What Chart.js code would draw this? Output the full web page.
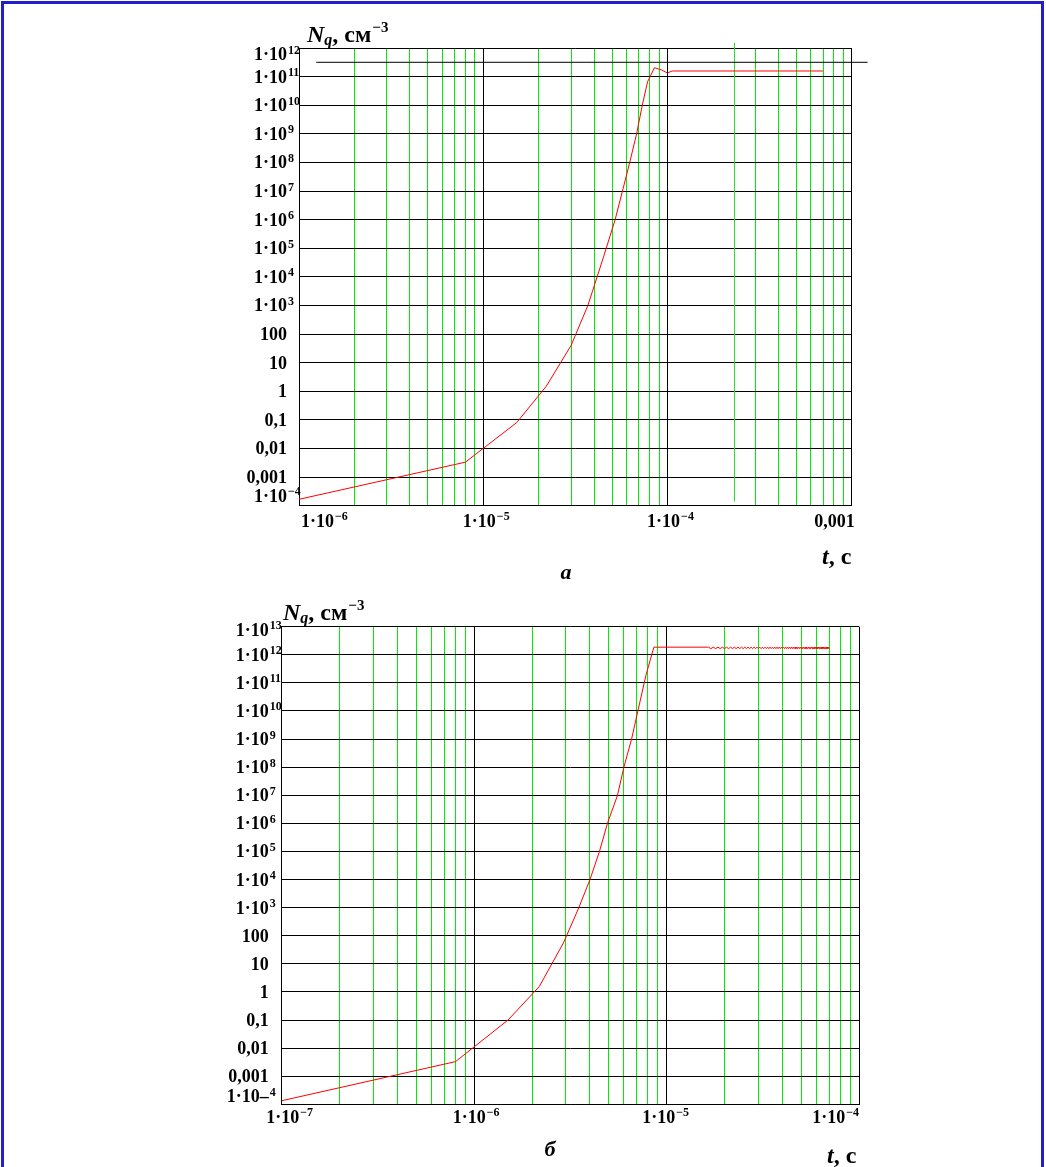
<!DOCTYPE html>
<html>
<head>
<meta charset="utf-8">
<script src="https://cdn.jsdelivr.net/npm/chart.js@4.4.1/dist/chart.umd.min.js"></script>
<style>
  html, body { margin: 0; padding: 0; background: #fff; }
  body { width: 1046px; height: 1167px; position: relative; overflow: hidden; }
  #frame { position: absolute; left: 1px; top: 1px; width: 1037px; height: 1200px; border: 3px solid #1f1fd0; }
  canvas { position: absolute; left: 0; }
  #chartA { top: 0; }
  #chartB { top: 590px; }
</style>
</head>
<body>
<div id="frame"></div>
<canvas id="chartA" width="1046" height="590"></canvas>
<canvas id="chartB" width="1046" height="577"></canvas>
<script>
// --- chart a: N_q(t), t from 1e-6 to 1e-3 s
const timeA = [1e-6, 8e-6, 1.52e-5, 2.2e-5, 3e-5, 3.7e-5, 4.5e-5, 5.2e-5, 5.7e-5, 6.24e-5, 6.8e-5, 7.3e-5, 7.8e-5, 8.5e-5, 9.3e-5, 1e-4, 1.06e-4, 7e-4];
const densA = [1.66e-4, 3.3e-3, 0.08, 1.5, 40, 1e3, 5e4, 1e6, 1e7, 1e8, 1e9, 1e10, 6.6e10, 2.05e11, 1.7e11, 1.34e11, 1.57e11, 1.57e11];
// horizontal black level line and green time mark
const levelTimeA = [1.24e-6, 1.22e-3];
const levelDensA = [3.16e11, 3.16e11];
const markTimeA = [2.31e-4, 2.31e-4];
const markDensA = [1.37e-4, 1.5e12];

// --- chart b: t from 1e-7 to 1e-4 s
const timeB = [1e-7, 8e-7, 1.5e-6, 2.18e-6, 2.91e-6, 3.5e-6, 4.0e-6, 4.48e-6, 4.93e-6, 5.56e-6, 6.0e-6, 6.58e-6, 7.81e-6, 8.59e-6, 1.65e-5];
const densB = [1.34e-4, 3.3e-3, 0.1, 1.55, 55, 1e3, 1e4, 1e5, 1e6, 1e7, 1e8, 1e9, 1.86e11, 1.87e12, 1.87e12];
// ripple on the plateau: t in microseconds, N in 1e12 cm^-3
const waveTimeB = [
  17, 17.5, 18, 18.5, 19, 19.5, 20, 20.5, 21, 21.5,
  22, 22.5, 23, 23.5, 24, 24.5, 25, 25.5, 26, 26.5,
  27, 27.5, 28, 28.5, 29, 29.5, 30, 30.5, 31, 31.5,
  32, 32.5, 33, 33.5, 34, 34.5, 35, 35.5, 36, 36.5,
  37, 37.5, 38, 38.5, 39, 39.5, 40, 40.5, 41, 41.5,
  42, 42.5, 43, 43.5, 44, 44.5, 45, 45.5, 46, 46.5,
  47, 47.5, 48, 48.5, 49, 49.5, 50, 50.5, 51, 51.5,
  52, 52.5, 53, 53.5, 54, 54.5, 55, 55.5, 56, 56.5,
  57, 57.5, 58, 58.5, 59, 59.5, 60, 60.5, 61, 61.5,
  62, 62.5, 63, 63.5, 64, 64.5, 65, 65.5, 66, 66.5,
  67, 67.5, 68, 68.5, 69, 69.5, 70];
const waveDensB = [
  1.66, 1.87, 1.66, 1.87, 1.66, 1.87, 1.66, 1.87, 1.66, 1.87,
  1.66, 1.87, 1.66, 1.87, 1.66, 1.87, 1.66, 1.87, 1.66, 1.87,
  1.66, 1.87, 1.66, 1.87, 1.66, 1.87, 1.66, 1.87, 1.66, 1.87,
  1.66, 1.87, 1.66, 1.87, 1.66, 1.87, 1.66, 1.87, 1.66, 1.87,
  1.66, 1.87, 1.66, 1.87, 1.66, 1.87, 1.66, 1.87, 1.66, 1.87,
  1.66, 1.87, 1.66, 1.87, 1.66, 1.87, 1.66, 1.87, 1.66, 1.87,
  1.66, 1.87, 1.66, 1.87, 1.66, 1.87, 1.66, 1.87, 1.66, 1.87,
  1.66, 1.87, 1.66, 1.87, 1.66, 1.87, 1.66, 1.87, 1.66, 1.87,
  1.66, 1.87, 1.66, 1.87, 1.66, 1.87, 1.66, 1.87, 1.66, 1.87,
  1.66, 1.87, 1.66, 1.87, 1.66, 1.87, 1.66, 1.87, 1.66, 1.87,
  1.66, 1.87, 1.66, 1.87, 1.66, 1.87, 1.66];

// --- tick labels (main text + superscript)
const yTickA = [1e12, 1e11, 1e10, 1e9, 1e8, 1e7, 1e6, 1e5, 1e4, 1e3, 100, 10, 1, 0.1, 0.01, 0.001, 1e-4];
const yMainA = ['1·10', '1·10', '1·10', '1·10', '1·10', '1·10', '1·10', '1·10', '1·10', '1·10', '100', '10', '1', '0,1', '0,01', '0,001', '1·10'];
const ySupA = ['12', '11', '10', '9', '8', '7', '6', '5', '4', '3', '', '', '', '', '', '', '−4'];
const xTickA = [1e-6, 1e-5, 1e-4, 1e-3];
const xMainA = ['1·10', '1·10', '1·10', '0,001'];
const xSupA = ['−6', '−5', '−4', ''];

const yTickB = [1e13, 1e12, 1e11, 1e10, 1e9, 1e8, 1e7, 1e6, 1e5, 1e4, 1e3, 100, 10, 1, 0.1, 0.01, 0.001, 1e-4];
const yMainB = ['1·10', '1·10', '1·10', '1·10', '1·10', '1·10', '1·10', '1·10', '1·10', '1·10', '1·10', '100', '10', '1', '0,1', '0,01', '0,001', '1·10–'];
const ySupB = ['13', '12', '11', '10', '9', '8', '7', '6', '5', '4', '3', '', '', '', '', '', '', '4'];
const xTickB = [1e-7, 1e-6, 1e-5, 1e-4];
const xMainB = ['1·10', '1·10', '1·10', '1·10'];
const xSupB = ['−7', '−6', '−5', '−4'];

const serif = '"Liberation Serif", "Times New Roman", serif';

function isDecade(v) {
  const l = Math.log10(v);
  return Math.abs(l - Math.round(l)) < 1e-6;
}

// 1..9 x 10^e gridlines
function logGrid(fromExp, toExp, skip) {
  const vals = [];
  for (let e = fromExp; e < toExp; e++) {
    for (let m = 1; m <= 9; m++) vals.push(m * Math.pow(10, e));
  }
  vals.push(Math.pow(10, toExp));
  return vals.filter(v => !skip.some(s => Math.abs(v / s - 1) < 1e-6));
}

function decades(fromExp, toExp) {
  const vals = [];
  for (let e = fromExp; e <= toExp; e++) vals.push(Math.pow(10, e));
  return vals;
}

function toPoints(ts, ns, tk, nk) {
  return ts.map((t, i) => ({ x: t * (tk || 1), y: ns[i] * (nk || 1) }));
}

function putText(ctx, main, sup, x, y, align, rise) {
  ctx.font = 'bold 18px ' + serif;
  const wm = ctx.measureText(main).width;
  ctx.font = 'bold 12px ' + serif;
  const ws = sup ? ctx.measureText(sup).width + 1 : 0;
  let x0 = x - (wm + ws) / 2;
  if (align === 'left') x0 = x;
  if (align === 'right') x0 = x - wm - ws;
  if (align === 'main') x0 = x - wm;
  ctx.font = 'bold 18px ' + serif;
  ctx.fillText(main, x0, y);
  if (sup) {
    ctx.font = 'bold 12px ' + serif;
    ctx.fillText(sup, x0 + wm + 1, y - rise);
  }
}

const axisText = {
  id: 'axisText',
  afterDraw(chart, args, o) {
    const ctx = chart.ctx, area = chart.chartArea;
    const xs = chart.scales.x, ys = chart.scales.y;
    ctx.save();
    ctx.fillStyle = '#000';
    ctx.textAlign = 'left';
    ctx.textBaseline = 'alphabetic';

    o.yTicks.forEach((v, i) => {
      let y = ys.getPixelForValue(v) + 6;
      if (i === 0) y += o.yEdge[0];
      if (i === o.yTicks.length - 1) y += o.yEdge[1];
      putText(ctx, o.yMain[i], o.ySup[i], area.left - o.yGap, y, 'main', 6.5);
    });
    o.xTicks.forEach((v, i) => {
      putText(ctx, o.xMain[i], o.xSup[i], xs.getPixelForValue(v) + o.xDx[i], o.xBase, o.xAlign[i], 7);
    });

    // N_q, см^-3
    let x = o.title[0];
    const yb = o.title[1];
    ctx.font = 'bold italic 24px ' + serif;
    ctx.fillText('N', x, yb);
    x += ctx.measureText('N').width;
    ctx.font = 'bold italic 16px ' + serif;
    ctx.fillText('q', x, yb + 3);
    x += ctx.measureText('q').width;
    ctx.font = 'bold 24px ' + serif;
    ctx.fillText(', см', x, yb);
    x += ctx.measureText(', см').width;
    ctx.font = 'bold 15px ' + serif;
    ctx.fillText('−3', x + 1, yb - 10);

    // t, с
    x = o.tLabel[0];
    ctx.font = 'bold italic 24px ' + serif;
    ctx.fillText('t', x, o.tLabel[1]);
    x += ctx.measureText('t').width;
    ctx.font = 'bold 24px ' + serif;
    ctx.fillText(', с', x, o.tLabel[1]);

    // panel letter
    ctx.font = 'bold italic 22px ' + serif;
    ctx.textAlign = 'center';
    ctx.fillText(o.letter[0], o.letter[1], o.letter[2]);
    ctx.restore();
  }
};

function buildChart(id, cfg) {
  return new Chart(document.getElementById(id), {
    type: 'line',
    data: { datasets: cfg.datasets },
    options: {
      responsive: false,
      animation: false,
      devicePixelRatio: 1,
      layout: { padding: cfg.pad },
      plugins: {
        legend: { display: false },
        tooltip: { enabled: false },
        axisText: cfg.text
      },
      elements: { point: { radius: 0 }, line: { tension: 0, borderWidth: 1 } },
      scales: {
        x: {
          type: 'logarithmic', min: cfg.xMin, max: cfg.xMax,
          afterBuildTicks: s => { s.ticks = cfg.xGrid.map(v => ({ value: v })); },
          afterFit: s => { s.height = 0; },
          ticks: { display: false },
          grid: { color: c => (c.tick && !isDecade(c.tick.value)) ? '#00ee00' : '#000', lineWidth: 1, drawTicks: false },
          border: { color: '#000', width: 1 }
        },
        y: {
          type: 'logarithmic', min: cfg.yMin, max: cfg.yMax,
          afterBuildTicks: s => { s.ticks = cfg.yGrid.map(v => ({ value: v })); },
          afterFit: s => { s.width = 0; },
          ticks: { display: false },
          grid: { color: '#000', lineWidth: 1, drawTicks: false },
          border: { color: '#000', width: 1 }
        }
      }
    },
    plugins: [axisText]
  });
}

buildChart('chartA', {
  pad: { left: 299, top: 48, right: 194.3, bottom: 84.4 },
  xMin: 1e-6, xMax: 1e-3, yMin: 1e-4, yMax: 1e12,
  xGrid: logGrid(-6, -3, [2e-4]),
  yGrid: decades(-4, 12),
  datasets: [
    { data: toPoints(timeA, densA), borderColor: '#ff0000', borderWidth: 1, pointRadius: 0 },
    { data: toPoints(levelTimeA, levelDensA), borderColor: '#000', borderWidth: 1, pointRadius: 0, clip: false },
    { data: toPoints(markTimeA, markDensA), borderColor: '#22e022', borderWidth: 1, pointRadius: 0, clip: false }
  ],
  text: {
    yTicks: yTickA, yMain: yMainA, ySup: ySupA, yGap: 12, yEdge: [6, -10],
    xTicks: xTickA, xMain: xMainA, xSup: xSupA,
    xAlign: ['left', 'center', 'center', 'right'], xDx: [2, 3, 3, 3], xBase: 527,
    title: [307, 42], tLabel: [822, 564], letter: ['а', 566, 579]
  }
});

buildChart('chartB', {
  pad: { left: 281.7, top: 36.7, right: 187, bottom: 62.7 },
  xMin: 1e-7, xMax: 1e-4, yMin: 1e-4, yMax: 1e13,
  xGrid: logGrid(-7, -4, []),
  yGrid: decades(-4, 13),
  datasets: [
    { data: toPoints(timeB, densB).concat(toPoints(waveTimeB, waveDensB, 1e-6, 1e12)), borderColor: '#ff0000', borderWidth: 1, pointRadius: 0 }
  ],
  text: {
    yTicks: yTickB, yMain: yMainB, ySup: ySupB, yGap: 13, yEdge: [3, -8],
    xTicks: xTickB, xMain: xMainB, xSup: xSupB,
    xAlign: ['center', 'center', 'center', 'right'], xDx: [8, 2, -1, 0], xBase: 533,
    title: [283, 30], tLabel: [827, 573], letter: ['б', 550, 566]
  }
});
</script>
</body>
</html>
